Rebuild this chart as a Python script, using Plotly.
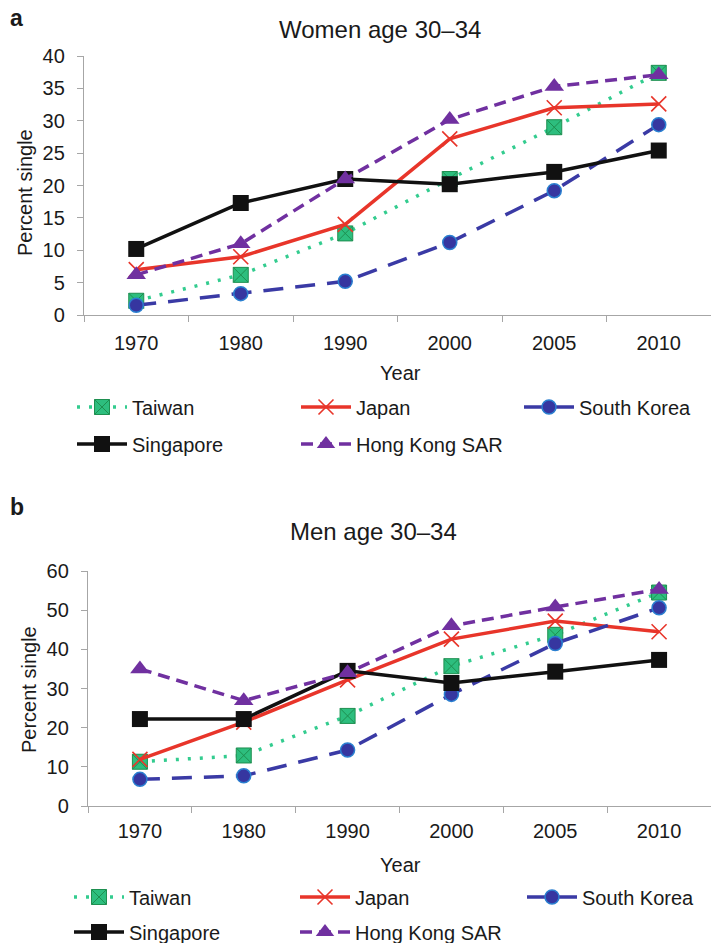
import plotly.graph_objects as go

# ---------------- data ----------------
years = ["1970", "1980", "1990", "2000", "2005", "2010"]
series_names = ["Taiwan", "Japan", "South Korea", "Singapore", "Hong Kong SAR"]

women_taiwan = [2.2, 6.2, 12.6, 21.0, 29.0, 37.4]
women_japan = [7.0, 9.0, 14.0, 27.2, 32.0, 32.6]
women_korea = [1.5, 3.3, 5.2, 11.2, 19.2, 29.4]
women_singapore = [10.2, 17.3, 21.0, 20.2, 22.1, 25.4]
women_hongkong = [6.2, 11.0, 21.0, 30.2, 35.3, 37.1]

men_taiwan = [11.3, 12.9, 23.0, 35.7, 43.7, 54.5]
men_japan = [11.9, 21.4, 32.2, 42.6, 47.2, 44.5]
men_korea = [6.8, 7.7, 14.3, 28.5, 41.5, 50.6]
men_singapore = [22.2, 22.2, 34.5, 31.4, 34.3, 37.3]
men_hongkong = [35.0, 26.9, 34.0, 46.0, 50.8, 55.3]

women_values = [women_taiwan, women_japan, women_korea, women_singapore, women_hongkong]
men_values = [men_taiwan, men_japan, men_korea, men_singapore, men_hongkong]

# ---------------- styles ----------------
FONT = "Liberation Sans, Arial, Helvetica, sans-serif"
styles = [
    dict(line=dict(color="#33CC8F", width=3.5, dash="3px,9px"),
         marker=dict(symbol="square-x", size=15, color="#2DBE7E",
                     line=dict(color="#1E8F50", width=1))),
    dict(line=dict(color="#E8352A", width=3.5, dash="solid"),
         marker=dict(symbol="x-thin-open", size=15, color="#E8352A",
                     line=dict(color="#E8352A", width=1.6))),
    dict(line=dict(color="#3A3AA5", width=3.5, dash="20px,12px"),
         marker=dict(symbol="circle", size=14, color="#3636A0",
                     line=dict(color="#2A7FD0", width=1.5))),
    dict(line=dict(color="#111111", width=3.5, dash="solid"),
         marker=dict(symbol="square", size=16, color="#111111",
                     line=dict(color="#111111", width=0))),
    dict(line=dict(color="#7030A0", width=3.5, dash="12px,7px"),
         marker=dict(symbol="triangle-up", size=17, color="#7030A0",
                     line=dict(color="#7030A0", width=0))),
]

W, H = 711, 943

def px_x(p):
    return p / W

def px_y(p):
    return 1 - p / H

fig = go.Figure()

# legend layout (pixel positions of legend text start / row centres)
legend_text_x = [[132, 356, 579, 132, 356], [129, 355, 582, 129, 355]]
legend_row_y = [[407, 407, 407, 444, 444], [897, 897, 897, 932, 932]]
ITEMW = 50

legend_defs = {}
for panel, vals in enumerate([women_values, men_values]):
    for i, name in enumerate(series_names):
        lid = panel * 5 + i + 1
        lname = "legend" if lid == 1 else f"legend{lid}"
        st = styles[i]
        fig.add_trace(go.Scatter(
            x=years, y=vals[i], name=name, mode="lines+markers",
            line=st["line"], marker=st["marker"],
            xaxis="x" if panel == 0 else "x2",
            yaxis="y" if panel == 0 else "y2",
            legend=lname, showlegend=True, hoverinfo="skip"))
        legend_defs[lname] = dict(
            x=px_x(legend_text_x[panel][i] - ITEMW - 10), xanchor="left",
            y=px_y(legend_row_y[panel][i]), yanchor="middle",
            orientation="h", itemwidth=ITEMW, bgcolor="rgba(0,0,0,0)",
            font=dict(family=FONT, size=20, color="#1a1a1a"),
            borderwidth=0, tracegroupgap=0, itemclick=False)

axis_common = dict(showgrid=False, zeroline=False, showline=True,
                   linecolor="#A6A6A6", linewidth=1.3, ticks="outside",
                   tickcolor="#A6A6A6", ticklen=6, tickwidth=1.3,
                   tickfont=dict(family=FONT, size=20, color="#1a1a1a"))

fig.update_layout(
    width=W, height=H,
    margin=dict(l=0, r=0, t=0, b=0, pad=0, autoexpand=False),
    paper_bgcolor="white", plot_bgcolor="white",
    font=dict(family=FONT, size=20, color="#1a1a1a"),
    xaxis=dict(domain=[px_x(84), 1.0], anchor="y", type="category",
               range=[-0.5, 5.5], tickson="boundaries",
               ticklabelstandoff=10, **axis_common),
    yaxis=dict(domain=[px_y(315), px_y(56)], anchor="x", range=[0, 40],
               dtick=5, ticklabelstandoff=8, **axis_common),
    xaxis2=dict(domain=[px_x(88), 1.0], anchor="y2", type="category",
                range=[-0.5, 5.5], tickson="boundaries",
                ticklabelstandoff=7, **axis_common),
    yaxis2=dict(domain=[px_y(806), px_y(571)], anchor="x2", range=[0, 60],
                dtick=10, ticklabelstandoff=8, **axis_common),
    **legend_defs,
)

annotations = [
    dict(text="<b>a</b>", x=px_x(8), y=px_y(18), xanchor="left", yanchor="middle",
         font=dict(size=23)),
    dict(text="<b>b</b>", x=px_x(8), y=px_y(507), xanchor="left", yanchor="middle",
         font=dict(size=23)),
    dict(text="Women age 30–34", x=px_x(380), y=px_y(30), xanchor="center",
         yanchor="middle", font=dict(size=24)),
    dict(text="Men age 30–34", x=px_x(373), y=px_y(531), xanchor="center",
         yanchor="middle", font=dict(size=24)),
    dict(text="Percent single", x=px_x(25), y=px_y(193), textangle=-90,
         xanchor="center", yanchor="middle", font=dict(size=20)),
    dict(text="Percent single", x=px_x(29), y=px_y(690), textangle=-90,
         xanchor="center", yanchor="middle", font=dict(size=20)),
    dict(text="Year", x=px_x(400), y=px_y(373), xanchor="center",
         yanchor="middle", font=dict(size=20)),
    dict(text="Year", x=px_x(400), y=px_y(865), xanchor="center",
         yanchor="middle", font=dict(size=20)),
]
for a in annotations:
    a.update(xref="paper", yref="paper", showarrow=False)
    a["font"].update(family=FONT, color="#1a1a1a")
fig.update_layout(annotations=annotations)

fig.write_html("out.html")
